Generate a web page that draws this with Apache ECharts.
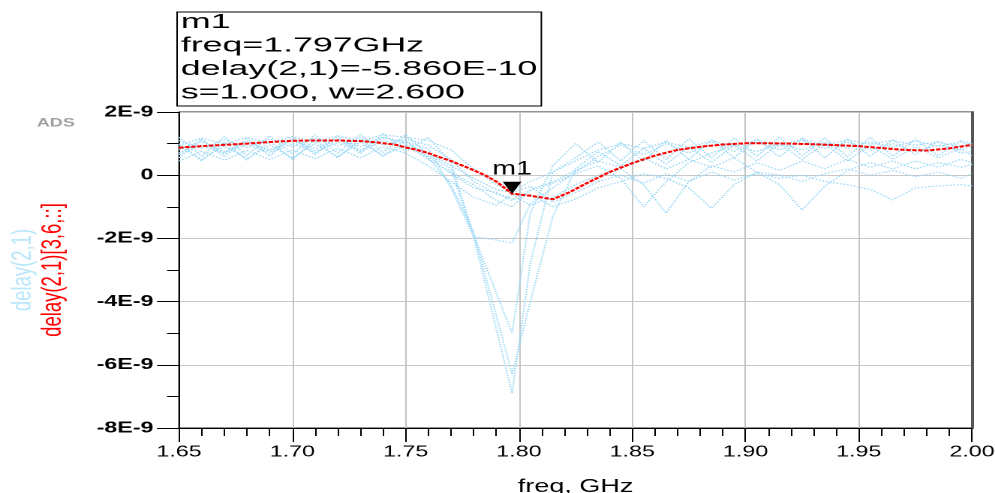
<!DOCTYPE html>
<html>
<head>
<meta charset="utf-8">
<script src="https://cdn.jsdelivr.net/npm/echarts@6/dist/echarts.min.js"></script>
<style>
  html, body { margin: 0; padding: 0; background: #fff; overflow: hidden; }
  /* The plot is laid out on a 663px canvas and widened to the 995px window. */
  #chart { width: 663px; height: 493px; transform: scaleX(1.5008); transform-origin: 0 0; }
</style>
</head>
<body>
<div id="chart"></div>
<script>
// ---- Data (delay in ns, i.e. units of 1E-9 s; frequency in GHz) ----
// Selected trace delay(2,1)[3,6,::]
const redFreq = [1.650, 1.660, 1.670, 1.680, 1.690, 1.700, 1.710, 1.720, 1.730, 1.737, 1.745,
  1.750, 1.755, 1.760, 1.765, 1.770, 1.778, 1.785, 1.790, 1.797, 1.805, 1.815, 1.822, 1.830,
  1.840, 1.850, 1.860, 1.870, 1.880, 1.890, 1.900, 1.910, 1.920, 1.930, 1.940, 1.950, 1.960,
  1.970, 1.980, 1.990, 2.000];
const redDelay = [0.87, 0.92, 0.96, 1.00, 1.05, 1.09, 1.10, 1.10, 1.08, 1.04, 0.97,
  0.88, 0.80, 0.70, 0.57, 0.45, 0.22, 0.00, -0.20, -0.586, -0.65, -0.76, -0.55, -0.25,
  0.10, 0.38, 0.62, 0.80, 0.90, 0.97, 1.01, 1.01, 1.00, 0.98, 0.95, 0.92, 0.86,
  0.80, 0.78, 0.85, 0.96];

// Swept traces delay(2,1), sampled on a shared frequency grid (null = no sample)
const sweepFreq = [1.650, 1.660, 1.670, 1.680, 1.690, 1.700, 1.710, 1.720, 1.730, 1.740,
  1.750, 1.760, 1.770, 1.780, 1.790, 1.797, 1.805, 1.815, 1.825, 1.835, 1.845, 1.855,
  1.865, 1.875, 1.885, 1.895, 1.905, 1.915, 1.925, 1.935, 1.945, 1.955, 1.965, 1.975,
  1.985, 1.995, 2.000];
const sweep1 = [1.20, 0.60, 1.22, 0.62, 1.25, 0.66, 1.28, 0.70, 1.30, 0.72, 1.28, 0.65, 0.20,
  -1.95, null, -6.90, -2.80, 0.10, 0.55, 1.05, 0.45, 1.10, 0.50, 1.15, 0.55, 1.18, 0.60, 1.20,
  0.62, 1.18, 0.58, 1.20, 0.60, 1.15, 0.62, 1.10, 1.00];
const sweep2 = [0.55, 1.15, 0.58, 1.18, 0.60, 1.22, 0.65, 1.25, 0.68, 1.32, 0.75, 1.20, 0.40,
  -1.90, null, -5.00, -1.20, 0.30, 1.00, 0.40, 1.05, 0.45, 1.10, 0.50, 1.12, 0.55, 1.15, 0.58,
  1.18, 0.55, 1.15, 0.60, 1.12, 0.65, 1.08, 0.70, 0.75];
const sweep3 = [1.00, 0.45, 1.05, 0.48, 1.08, 0.50, 1.12, 0.55, 1.15, 0.60, 1.10, 0.55, -0.30,
  -1.80, null, -6.30, -4.00, -1.30, 0.20, 0.75, 0.30, 0.85, 0.35, 0.90, 0.40, 0.95, 0.45, 1.00,
  0.50, 1.00, 0.45, 0.95, 0.50, 0.90, 0.55, 0.85, 0.60];
const sweep4 = [0.80, 1.10, 0.75, 1.05, 0.80, 1.12, 0.85, 1.15, 0.90, 1.20, 1.05, 0.85, -0.40,
  -1.95, -2.05, -2.15, -0.90, -0.40, 0.10, 0.60, 0.95, 0.65, 1.00, 0.70, 1.05, 0.75, 1.05, 0.80,
  1.10, 0.85, 1.05, 0.80, 1.00, 0.75, 0.95, 0.80, 0.90];
const sweep5 = [0.45, 0.75, 0.48, 0.78, 0.50, 0.80, 0.52, 0.85, 0.55, 0.90, 0.70, 0.30, -0.20,
  -0.70, -0.95, -0.60, -0.95, -0.70, -0.30, 0.00, 0.20, -0.30, -1.20, -0.20, 0.30, 0.10, 0.40,
  0.15, 0.45, 0.20, 0.50, 0.25, 0.45, 0.20, 0.40, 0.25, 0.35];
const sweep6 = [0.65, 0.95, 0.68, 0.98, 0.70, 1.00, 0.72, 1.05, 0.75, 1.10, 0.90, 0.60, 0.05,
  -0.40, -0.55, -0.80, -0.60, -1.00, -0.75, -0.40, -0.20, 0.05, -0.10, -0.40, -1.05, -0.30,
  0.10, 0.00, -0.20, 0.05, 0.20, 0.00, 0.15, -0.05, 0.10, -0.10, 0.05];
const sweep7 = [0.90, 0.50, 0.92, 0.52, 0.95, 0.55, 1.00, 0.58, 1.05, 0.62, 0.95, 0.50, 0.10,
  -0.30, -0.80, -1.00, -0.45, -0.20, 0.15, 0.45, 0.25, 0.55, 0.20, 0.50, 0.25, 0.55, 0.10,
  -0.30, -1.10, -0.35, 0.15, 0.40, 0.20, 0.45, 0.25, 0.50, 0.40];
const sweep8 = [0.70, 1.05, 0.72, 1.08, 0.75, 1.10, 0.78, 1.15, 0.80, 1.18, 1.00, 0.70, 0.30,
  -0.10, -0.45, -0.55, -0.35, -0.85, -0.55, -0.20, 0.00, -0.25, 0.05, -0.20, 0.10, -0.15, 0.05,
  -0.10, 0.00, -0.20, -0.30, -0.45, -0.78, -0.40, -0.34, -0.30, -0.34];
const sweep9 = [1.10, 0.85, 1.12, 0.88, 1.15, 0.90, 1.18, 0.92, 1.20, 0.95, 1.15, 0.95, 0.50,
  -0.20, -0.60, -0.75, -0.50, -0.25, 0.05, 0.30, -0.10, -1.00, -0.20, 0.40, 0.70, 0.95, 0.75,
  1.00, 0.80, 1.05, 0.85, 1.05, 0.90, 1.08, 0.92, 1.05, 0.95];
const sweep10 = [0.95, 1.18, 0.98, 1.20, 1.02, 1.22, 1.05, 1.25, 1.08, 1.28, 1.20, 1.10, 0.80,
  0.20, -0.30, -0.50, -0.20, 0.10, 0.45, 0.80, 1.00, 0.85, 1.05, 0.88, 1.10, 0.90, 1.12, 0.92,
  1.15, 0.95, 1.12, 0.98, 1.10, 0.95, 1.05, 0.90, 1.00];

// Marker m1 readout
const markerName = 'm1';
const markerFreq = 1.797;     // GHz
const markerDelay = -0.586;   // ns
const markerS = 1.0;
const markerW = 2.6;

// Axis ticks
const freqTicks = { min: 1.65, max: 2.00, step: 0.05 };
const delayTicks = { min: -8, max: 2, step: 2 };

// ---- Chart ----
const FONT = '"Liberation Sans", Arial, Helvetica, sans-serif';
const SWEEP_COLOR = '#9dd9f5';
const sweeps = [sweep1, sweep2, sweep3, sweep4, sweep5, sweep6, sweep7, sweep8, sweep9, sweep10];

const sweepSeries = sweeps.map((vals) => ({
  name: 'delay(2,1)',
  type: 'line',
  data: sweepFreq.map((f, i) => [f, vals[i]]),
  connectNulls: true,
  symbol: 'none',
  silent: true,
  z: 2,
  lineStyle: { color: SWEEP_COLOR, width: 1.2, type: 'dotted' }
}));

const redSeries = {
  name: 'delay(2,1)[3,6,::]',
  type: 'line',
  data: redFreq.map((f, i) => [f, redDelay[i]]),
  symbol: 'none',
  silent: true,
  z: 4,
  lineStyle: { color: '#ff0000', width: 2, type: [3, 1] },
  markPoint: {
    silent: true,
    symbol: 'path://M0,0 L10,0 L5,10 Z',
    symbolSize: [12.5, 12],
    symbolOffset: [0, -6],
    itemStyle: { color: '#000' },
    label: {
      show: true, position: 'top', distance: 3,
      formatter: markerName, color: '#000', fontSize: 19, fontFamily: FONT
    },
    data: [{ name: markerName, coord: [markerFreq, markerDelay] }]
  }
};

const readout = [
  markerName,
  'freq=' + markerFreq.toFixed(3) + 'GHz',
  'delay(2,1)=' + (markerDelay * 1e-9).toExponential(3).toUpperCase(),
  's=' + markerS.toFixed(3) + ', w=' + markerW.toFixed(3)
].join('\n');

const option = {
  animation: false,
  grid: {
    left: 119.3, right: 15.3, top: 112, bottom: 65,
    outerBoundsMode: 'none',
    show: true, borderColor: '#222', borderWidth: 1
  },
  xAxis: {
    type: 'value',
    min: freqTicks.min, max: freqTicks.max, interval: freqTicks.step,
    name: 'freq, GHz', nameLocation: 'middle', nameGap: 50,
    nameTextStyle: { fontSize: 18, fontFamily: FONT, color: '#000' },
    // the frame axis on the right starts at 0 on the bottom edge, so the
    // frequency axis line and its ticks sit along the bottom of the plot
    axisLine: { show: true, onZero: true, onZeroAxisIndex: 1, lineStyle: { color: '#000' } },
    axisTick: { show: true, length: 14, lineStyle: { color: '#000' } },
    minorTick: { show: true, splitNumber: 5, length: 8, lineStyle: { color: '#000' } },
    axisLabel: { margin: 16, fontSize: 15.5, color: '#000', fontFamily: FONT,
      formatter: v => v.toFixed(2) },
    splitLine: { show: true, lineStyle: { color: '#c4c4c4' } }
  },
  yAxis: [{
    type: 'value',
    min: delayTicks.min, max: delayTicks.max, interval: delayTicks.step,
    axisLine: { show: true, onZero: false, lineStyle: { color: '#000' } },
    axisTick: { show: true, length: 14.7, lineStyle: { color: '#000' } },
    minorTick: { show: true, splitNumber: 2, length: 8, lineStyle: { color: '#000' } },
    axisLabel: { margin: 17, fontSize: 15.5, fontWeight: 'bold', color: '#000', fontFamily: FONT,
      formatter: v => (v === 0 ? '0' : v + 'E-9') },
    splitLine: { show: true, lineStyle: { color: '#c8c8c8' } }
  }, {
    // right-hand frame line
    type: 'value', position: 'right',
    min: 0, max: 10, interval: 2,
    axisLine: { show: true, onZero: false, lineStyle: { color: '#555', width: 2 } },
    axisTick: { show: false }, axisLabel: { show: false }, splitLine: { show: false }
  }],
  series: [...sweepSeries, redSeries],
  graphic: [
    { type: 'rect', shape: { x: 118, y: 12, width: 242.7, height: 94 },
      style: { fill: '#fff', stroke: '#000', lineWidth: 1 } },
    { type: 'text', x: 120.5, y: 10.75, scaleX: 1.19,
      style: { text: readout, fontSize: 20, fontFamily: FONT, fill: '#000',
        lineHeight: 23.5, verticalAlign: 'top', align: 'left' } },
    { type: 'text', x: 24.5, y: 123,
      style: { text: 'ADS', fontSize: 12, fontWeight: 'bold', fontFamily: FONT, fill: '#a0a0a0',
        verticalAlign: 'middle', align: 'left' } },
    { type: 'text', x: 15.3, y: 270, rotation: Math.PI / 2,
      style: { text: 'delay(2,1)', fontSize: 18.5, fontFamily: FONT, fill: '#b8e6fa',
        align: 'center', verticalAlign: 'middle' } },
    { type: 'text', x: 35.3, y: 270, rotation: Math.PI / 2,
      style: { text: 'delay(2,1)[3,6,::]', fontSize: 18.5, fontFamily: FONT, fill: '#ff0000',
        align: 'center', verticalAlign: 'middle' } }
  ]
};

const chart = echarts.init(document.getElementById('chart'), null, { devicePixelRatio: 2 });
chart.setOption(option);
</script>
</body>
</html>
